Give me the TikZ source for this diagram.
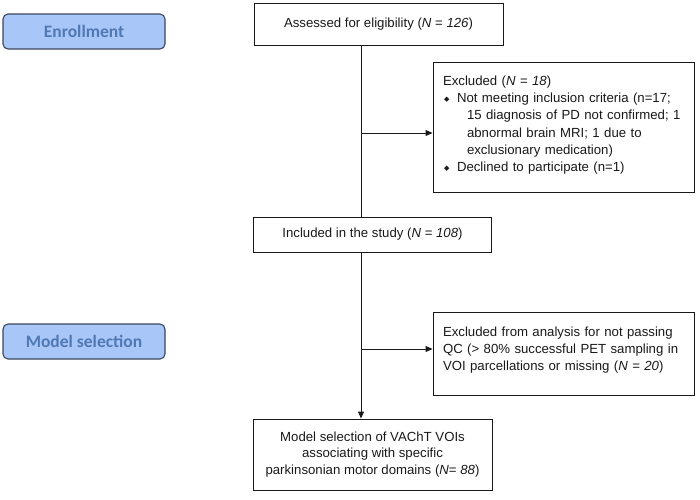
\documentclass[tikz,border=0pt]{standalone}
\usepackage{fontspec}
\setmainfont{Liberation Sans}
\newfontfamily\labelfont{Carlito}
\newfontfamily\symfont{DejaVu Sans}
\usetikzlibrary{arrows.meta}
\definecolor{labfill}{RGB}{168,198,248}
\definecolor{labtext}{RGB}{80,121,180}
\definecolor{labedge}{RGB}{60,72,92}
\definecolor{linecol}{RGB}{25,25,25}
\newcommand{\bul}{\hspace*{1pt}\makebox[13pt][l]{\raisebox{1pt}{\symfont\fontsize{7}{7}\selectfont ◆}}}
\begin{document}
\begin{tikzpicture}[x=1pt,y=-1pt,
  stagelabel/.style={draw=labedge, line width=1.1pt, fill=labfill, rounded corners=5pt,
    minimum width=162pt, minimum height=35pt, inner sep=0pt,
    text=labtext, font=\labelfont\bfseries\fontsize{17.5}{20}\selectfont},
  flowbox/.style={draw=linecol, line width=0.9pt, inner sep=0pt, text=black!90,
    font=\fontsize{13.2}{17}\selectfont},
  leftbox/.style={flowbox, align=left, text width=241pt, inner xsep=10pt,
    font=\fontsize{13.2}{17.3}\selectfont},
  conn/.style={draw=linecol, line width=0.9pt},
  arr/.style={conn, -{Triangle[length=7pt,width=6pt]}}]
\useasboundingbox (0,0) rectangle (700,499);

\node[stagelabel] (enroll) at (84,31.5) {Enrollment};
\node[stagelabel] (modsel) at (84,341.5) {Model selection};

\node[flowbox, minimum width=249pt, minimum height=42pt] (assessed) at (378.5,24)
  {Assessed for eligibility (\textit{N} = \textit{126})};

\node[leftbox, minimum width=261pt, minimum height=130pt] (exc1) at (563.5,127)
  {Excluded (\textit{N} = \textit{18})\\
   \bul Not meeting inclusion criteria (n=17;\\
   \hspace*{24pt}15 diagnosis of PD not confirmed; 1\\
   \hspace*{24pt}abnormal brain MRI; 1 due to\\
   \hspace*{24pt}exclusionary medication)\\
   \bul Declined to participate (n=1)\\[-11pt]\mbox{}};

\node[flowbox, minimum width=238pt, minimum height=35pt] (included) at (372.5,234.5)
  {Included in the study (\textit{N} = \textit{108})};

\node[leftbox, minimum width=261pt, minimum height=83pt,
  font=\fontsize{13.2}{16.6}\selectfont] (exc2) at (563.5,353.5)
  {Excluded from analysis for not passing\\
   QC (> 80\% successful PET sampling in\\
   VOI parcellations or missing (\textit{N} = \textit{20})\\[-7pt]\mbox{}};

\node[flowbox, minimum width=239pt, minimum height=71pt, align=center,
  font=\fontsize{13.2}{16.3}\selectfont] (final) at (372.5,454.5)
  {Model selection of VAChT VOIs\\
   associating with specific\\
   parkinsonian motor domains (\textit{N}= \textit{88})};

\coordinate (v) at (361,0);
\coordinate (j1) at (361,133);
\coordinate (j2) at (361,349);

\draw[conn] (assessed.south -| v) -- (included.north -| v);
\draw[arr] (included.south -| v) -- (final.north -| v);
\draw[arr] (j1) -- (j1 -| exc1.west);
\draw[arr] (j2) -- (j2 -| exc2.west);
\end{tikzpicture}
\end{document}
